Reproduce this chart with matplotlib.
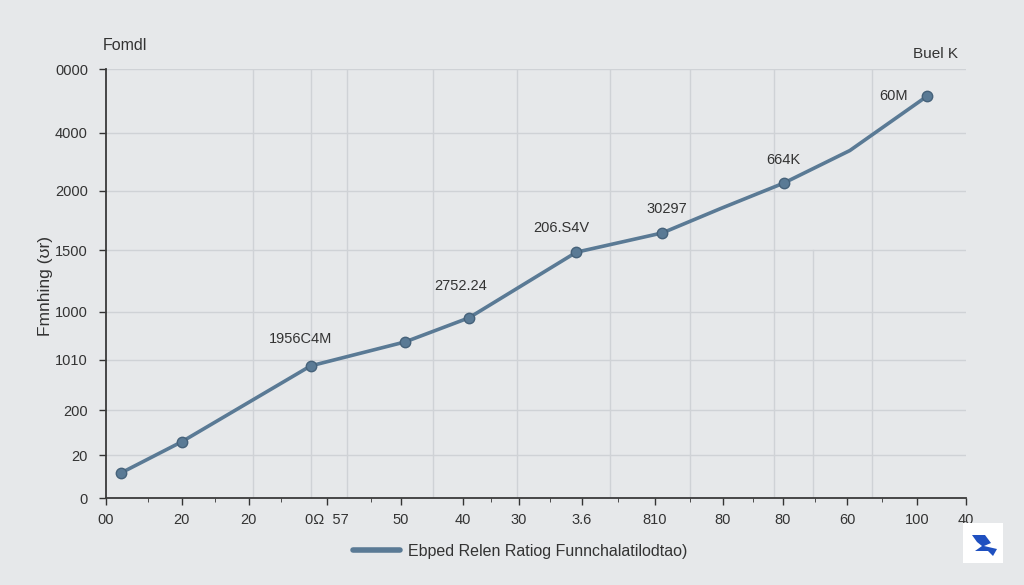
import numpy as np
import matplotlib.pyplot as plt
from matplotlib.patches import Rectangle, Polygon


# ==========================================
# DATA
# ==========================================

x_vals = [1.7, 8.8, 23.8, 34.8, 42.2, 54.7, 64.7, 71.5, 78.8, 86.5, 95.5]
y_vals = [5.8, 13.1, 30.8, 36.4, 42.0, 57.3, 61.8, 67.5, 73.4, 81.0, 93.7]
marker_idx = [0, 1, 2, 3, 4, 5, 6, 8, 10]

point_labels = ["1956C4M", "2752.24", "206.S4V", "30297", "664K", "60M"]
label_x = [22.6, 41.2, 52.9, 65.2, 78.8, 91.6]
label_y = [35.4, 47.8, 61.3, 65.7, 77.2, 92.1]

y_ticks = [0, 10.0, 20.5, 32.2, 43.4, 57.8, 71.6, 85.1, 100]
y_ticklabels = ["0", "20", "200", "1010", "1000", "1500", "2000", "4000", "0000"]

x_ticks = [0, 8.8, 16.6, 25.7, 34.3, 41.5, 48.0, 55.3, 63.8, 71.7, 78.7,
           86.2, 94.3, 100]
x_ticklabels = ["00", "20", "20", "0\u03a9  57", "50", "40", "30", "3.6",
                "810", "80", "80", "60", "100", "40"]
x_minor = [4.9, 12.7, 20.3, 30.8, 44.8, 51.6, 59.5, 67.9, 75.2, 82.4, 90.2]

v_grid = [17.1, 23.8, 28.0, 38.0, 47.8, 58.6, 67.9, 77.7, 89.1]

title = "Fomdl"
corner = "Buel K"
y_label = "Fmnhing (\u028ar)"
legend_label = "Ebped Relen Ratiog Funnchalatilodtao)"


# ==========================================
# PLOT
# ==========================================

plt.rcParams["font.family"] = ["Liberation Sans", "DejaVu Sans"]

BG = "#e6e8ea"
LINE = "#5a7a95"
TXT = "#333333"

fig = plt.figure(figsize=(10.24, 5.85), dpi=100, facecolor=BG)
ax = fig.add_axes([0.1035, 0.1487, 0.8398, 0.7333])
ax.set_facecolor(BG)

ax.set_xlim(0, 100)
ax.set_ylim(0, 100)

# grid
for yt in y_ticks[1:]:
    ax.axhline(yt, color="#cfd2d6", lw=1, zorder=0)
for xv in v_grid:
    ax.axvline(xv, color="#cfd2d6", lw=1, zorder=0)
ax.plot([82.2, 82.2], [0, 57.8], color="#cfd2d6", lw=1, zorder=0)

line, = ax.plot(x_vals, y_vals, color=LINE, lw=2.6, solid_capstyle="round",
                zorder=3, label=legend_label)
ax.plot([x_vals[i] for i in marker_idx], [y_vals[i] for i in marker_idx],
        "o", ms=7.5, color=LINE, mec="#46627a", mew=1.0, zorder=4)

for t, lx, ly in zip(point_labels, label_x, label_y):
    ax.text(lx, ly, t, ha="center", va="bottom", fontsize=10.5, color=TXT)

ax.set_yticks(y_ticks)
ax.set_yticklabels(y_ticklabels)
ax.set_xticks(x_ticks)
ax.set_xticklabels(x_ticklabels)
ax.set_xticks(x_minor, minor=True)
ax.tick_params(axis="both", labelsize=10.5, colors=TXT, length=5, width=1)
ax.tick_params(axis="x", which="minor", length=3, color=TXT)
ax.tick_params(axis="x", pad=6)
ax.tick_params(axis="y", pad=8)

for s in ["top", "right"]:
    ax.spines[s].set_visible(False)
for s in ["left", "bottom"]:
    ax.spines[s].set_color("#3a3a3a")
    ax.spines[s].set_linewidth(1.3)

ax.set_ylabel(y_label, fontsize=12.5, color=TXT)
ax.yaxis.set_label_coords(-0.062, 0.494)

fig.text(0.100, 0.915, title, fontsize=11.5, color=TXT)
fig.text(0.892, 0.900, corner, fontsize=11, color=TXT)

leg = fig.legend(handles=[line], loc="center", bbox_to_anchor=(0.508, 0.058),
                 frameon=False, fontsize=11.5, handlelength=3.0,
                 handletextpad=0.5)
leg.get_lines()[0].set_linewidth(4)
for t in leg.get_texts():
    t.set_color(TXT)

# logo
def px(x, y):
    return (x / 1024, (585 - y) / 585)

fig.patches.append(Rectangle(px(963, 563), 40 / 1024, 40 / 585,
                             transform=fig.transFigure, facecolor="white",
                             edgecolor="none"))
fig.patches.append(Polygon([px(972, 535), px(985, 535), px(991, 543),
                            px(984, 546), px(997, 549), px(993, 556),
                            px(988, 551), px(975, 551), px(982, 546),
                            px(977, 542)],
                           closed=True, transform=fig.transFigure,
                           facecolor="#1f50c0", edgecolor="none"))

plt.savefig("out.png", dpi=100, facecolor=BG)
plt.close()
